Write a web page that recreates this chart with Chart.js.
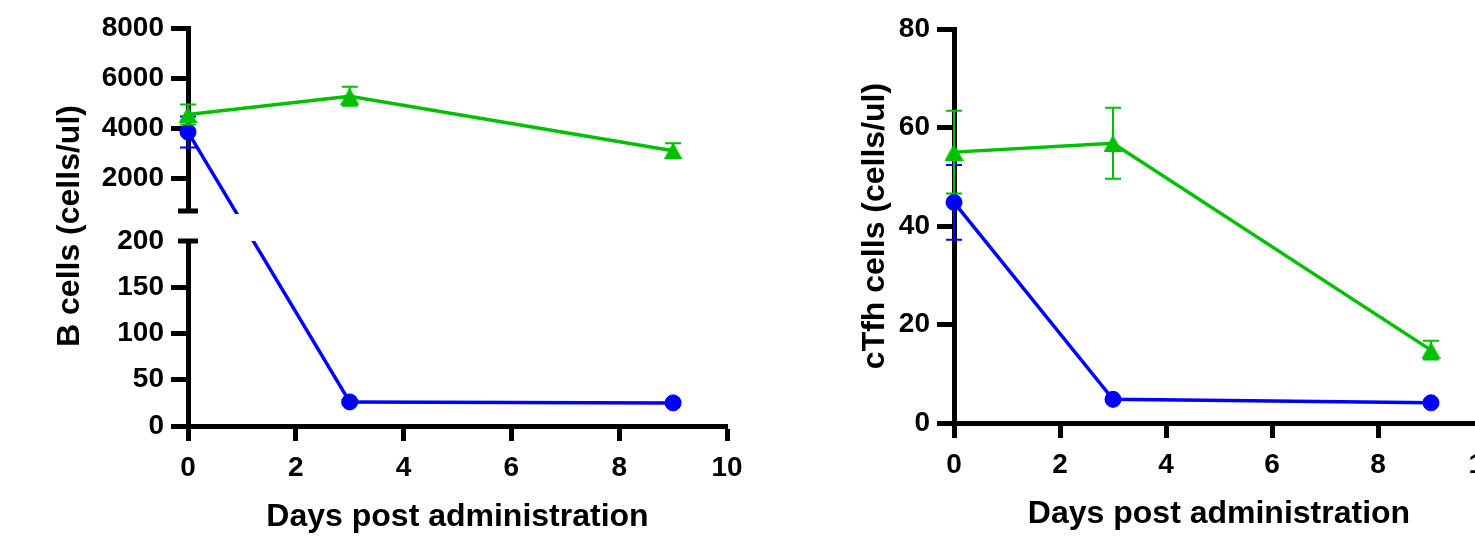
<!DOCTYPE html>
<html>
<head>
<meta charset="utf-8">
<title>B cells and cTfh cells</title>
<script src="https://cdn.jsdelivr.net/npm/chart.js@4.4.0/dist/chart.umd.min.js"></script>
<style>
  html, body { margin: 0; padding: 0; background: #fff; }
  body { width: 1475px; height: 539px; position: relative; overflow: hidden; }
  .panel { position: absolute; top: 0; }
  #bPanel { left: 0; }
  #tPanel { left: 760px; }
</style>
</head>
<body>
<div class="panel" id="bPanel"><canvas id="bCellChart" width="760" height="539"></canvas></div>
<div class="panel" id="tPanel"><canvas id="tfhChart" width="760" height="539"></canvas></div>
<script>
// shared x axis
const DAYS = [0, 3, 9];
const X_TICKS = [0, 2, 4, 6, 8, 10];

// B cells (broken y axis)
const B_GREEN = [4550, 5280, 3100];
const B_GREEN_ERR = [400, 380, 300];
const B_BLUE = [3850, 26, 25];
const B_BLUE_ERR = [620, 2, 2];
const B_TOP_TICKS = [2000, 4000, 6000, 8000];
const B_BOTTOM_TICKS = [0, 50, 100, 150, 200];
const B_TOP_RANGE = [700, 8000];
const B_BOTTOM_RANGE = [0, 200];

// cTfh cells
const T_GREEN = [55, 56.8, 14.8];
const T_GREEN_ERR = [8.4, 7.2, 1.9];
const T_BLUE = [44.8, 4.8, 4.1];
const T_BLUE_ERR = [7.6, 0.4, 0.4];
const T_TICKS = [0, 20, 40, 60, 80];

const GREEN = '#00c000';
const BLUE = '#0000ff';

Chart.defaults.font.family = "Arial, 'Liberation Sans', Helvetica, sans-serif";
Chart.defaults.font.weight = 'bold';
Chart.defaults.color = '#000';

function toPoints(values, errs) {
  return values.map((v, i) => ({ x: DAYS[i], y: v, err: errs[i] }));
}

function fixedTicks(list) {
  return function(scale) {
    scale.ticks = list.map(v => ({ value: v }));
  };
}

// triangle centred on its box, like the original plot
function triangleMarker(color, w, h) {
  const c = document.createElement('canvas');
  c.width = w;
  c.height = h;
  const g = c.getContext('2d');
  g.fillStyle = color;
  g.beginPath();
  g.moveTo(w / 2, 0);
  g.lineTo(w, h);
  g.lineTo(0, h);
  g.closePath();
  g.fill();
  return c;
}

// error bars, drawn under each dataset's own line and markers
const errorBars = {
  id: 'errorBars',
  beforeDatasetDraw(chart, args) {
    const ds = chart.data.datasets[args.index];
    const meta = args.meta;
    const xs = chart.scales[meta.xAxisID];
    const ys = chart.scales[meta.yAxisID];
    const ctx = chart.ctx;
    ctx.save();
    ctx.strokeStyle = ds.borderColor;
    ctx.lineWidth = 2;
    ds.data.forEach(p => {
      if (!p.err) return;
      const x = xs.getPixelForValue(p.x);
      const yHi = ys.getPixelForValue(p.y + p.err);
      const yLo = ys.getPixelForValue(p.y - p.err);
      ctx.beginPath();
      ctx.moveTo(x, yHi); ctx.lineTo(x, yLo);
      ctx.moveTo(x - 8, yHi); ctx.lineTo(x + 8, yHi);
      ctx.moveTo(x - 8, yLo); ctx.lineTo(x + 8, yLo);
      ctx.stroke();
    });
    ctx.restore();
  }
};

// axis break: caps at both segment ends and the line that crosses the gap
const axisBreak = {
  id: 'axisBreak',
  beforeDatasetsDraw(chart) {
    const top = chart.scales.yTop, bot = chart.scales.yBot;
    if (!top || !bot) return;
    const ctx = chart.ctx;
    const area = chart.chartArea;
    const ax = area.left;

    ctx.save();
    ctx.strokeStyle = '#000';
    ctx.lineWidth = 5;
    ctx.beginPath();
    ctx.moveTo(ax - 10, top.bottom); ctx.lineTo(ax + 10, top.bottom);
    ctx.moveTo(ax - 10, bot.top); ctx.lineTo(ax + 10, bot.top);
    ctx.stroke();
    ctx.restore();

    chart.data.datasets.forEach(ds => {
      if (ds.bridgeTo === undefined) return;
      const next = chart.data.datasets[ds.bridgeTo];
      const a = ds.data[ds.data.length - 1];
      const b = next.data[0];
      const xs = chart.scales.x;
      const x1 = xs.getPixelForValue(a.x), y1 = top.getPixelForValue(a.y);
      const x2 = xs.getPixelForValue(b.x), y2 = bot.getPixelForValue(b.y);
      ctx.save();
      ctx.beginPath();
      ctx.rect(area.left - 20, area.top - 20, area.width + 40, top.bottom + 3 - area.top + 20);
      ctx.rect(area.left - 20, bot.top, area.width + 40, area.bottom - bot.top + 20);
      ctx.clip();
      ctx.strokeStyle = ds.borderColor;
      ctx.lineWidth = ds.borderWidth;
      ctx.beginPath();
      ctx.moveTo(x1, y1);
      ctx.lineTo(x2, y2);
      ctx.stroke();
      ctx.restore();
    });
  }
};

function lineSet(label, data, color, style, axis) {
  return {
    label: label,
    data: data,
    yAxisID: axis,
    borderColor: color,
    backgroundColor: color,
    borderWidth: 3.5,
    pointStyle: style === 'triangle' ? triangleMarker(color, 19, 17) : 'circle',
    pointRadius: 8,
    pointBackgroundColor: color,
    pointBorderColor: color,
    pointBorderWidth: 1,
    tension: 0,
    clip: false
  };
}

function xAxis(height, titlePad) {
  return {
    type: 'linear',
    position: 'bottom',
    min: X_TICKS[0],
    max: X_TICKS[X_TICKS.length - 1],
    afterBuildTicks: fixedTicks(X_TICKS),
    afterFit(scale) { scale.height = height; },
    border: { display: true, color: '#000', width: 5 },
    grid: { display: true, drawOnChartArea: false, drawTicks: true, tickLength: 15, tickWidth: 5, tickColor: '#000' },
    ticks: { autoSkip: false, padding: 10, font: { size: 28, weight: 'bold' }, callback: v => String(v) },
    title: { display: true, text: 'Days post administration', font: { size: 32, weight: 'bold' }, padding: { top: 0, bottom: titlePad } }
  };
}

function yAxis(range, ticks, width, extra) {
  return Object.assign({
    type: 'linear',
    position: 'left',
    min: range[0],
    max: range[1],
    afterBuildTicks: fixedTicks(ticks),
    afterFit(scale) { scale.width = width; },
    border: { display: true, color: '#000', width: 5 },
    grid: { display: true, drawOnChartArea: false, drawTicks: true, tickLength: 17, tickWidth: 5, tickColor: '#000' },
    ticks: { autoSkip: false, padding: 7, font: { size: 28, weight: 'bold' }, callback: v => String(v) }
  }, extra);
}

// split blue B-cell series across the two axis segments
const bBluePts = toPoints(B_BLUE, B_BLUE_ERR);
const bBlueUpper = bBluePts.filter(p => p.y > B_BOTTOM_RANGE[1]);
const bBlueLower = bBluePts.filter(p => p.y <= B_BOTTOM_RANGE[1]);

const blueUpperSet = lineSet('Blue', bBlueUpper, BLUE, 'circle', 'yTop');
blueUpperSet.bridgeTo = 2;

new Chart(document.getElementById('bCellChart'), {
  type: 'line',
  data: {
    datasets: [
      lineSet('Green', toPoints(B_GREEN, B_GREEN_ERR), GREEN, 'triangle', 'yTop'),
      blueUpperSet,
      lineSet('Blue', bBlueLower, BLUE, 'circle', 'yBot')
    ]
  },
  options: {
    responsive: false,
    devicePixelRatio: 1,
    animation: false,
    events: [],
    layout: { padding: { left: 0, right: 33, top: 28, bottom: 0 } },
    plugins: { legend: { display: false }, tooltip: { enabled: false } },
    scales: {
      x: xAxis(113, 3),
      yTop: yAxis(B_TOP_RANGE, B_TOP_TICKS, 188, { stack: 'b', stackWeight: 183, weight: 3 }),
      yGap: {
        type: 'linear', position: 'left', min: 0, max: 1,
        stack: 'b', stackWeight: 30, weight: 2,
        afterFit(scale) { scale.width = 188; },
        border: { display: false },
        grid: { display: false },
        ticks: { display: false },
        title: { display: true, text: 'B cells (cells/ul)', font: { size: 32, weight: 'bold' }, padding: { top: 51, bottom: 0 } }
      },
      yBot: yAxis(B_BOTTOM_RANGE, B_BOTTOM_TICKS, 188, {
        stack: 'b', stackWeight: 185, weight: 1,
        grid: {
          display: true, drawOnChartArea: false, drawTicks: true, tickLength: 17, tickWidth: 5,
          tickColor: c => (c.tick && c.tick.value === B_BOTTOM_RANGE[1]) ? 'rgba(0,0,0,0)' : '#000'
        }
      })
    }
  },
  plugins: [errorBars, axisBreak]
});

new Chart(document.getElementById('tfhChart'), {
  type: 'line',
  data: {
    datasets: [
      lineSet('Green', toPoints(T_GREEN, T_GREEN_ERR), GREEN, 'triangle', 'y'),
      lineSet('Blue', toPoints(T_BLUE, T_BLUE_ERR), BLUE, 'circle', 'y')
    ]
  },
  options: {
    responsive: false,
    devicePixelRatio: 1,
    animation: false,
    events: [],
    layout: { padding: { left: 0, right: 36, top: 29, bottom: 0 } },
    plugins: { legend: { display: false }, tooltip: { enabled: false } },
    scales: {
      x: xAxis(116, 6),
      y: yAxis([T_TICKS[0], T_TICKS[T_TICKS.length - 1]], T_TICKS, 194, {
        title: { display: true, text: 'cTfh cells (cells/ul)', font: { size: 32, weight: 'bold' }, padding: { top: 96, bottom: 0 } }
      })
    }
  },
  plugins: [errorBars]
});
</script>
</body>
</html>
